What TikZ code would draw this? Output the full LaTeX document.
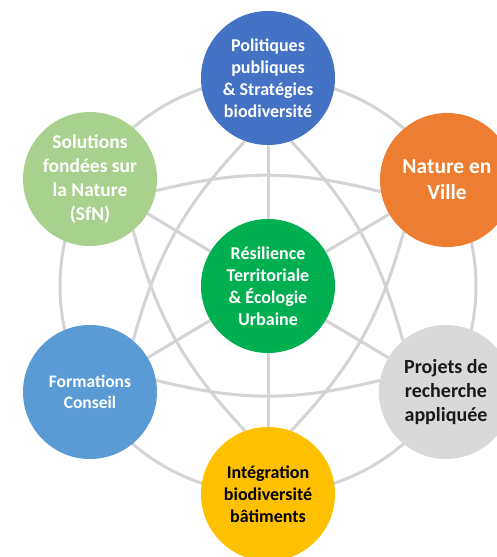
\documentclass[tikz,border=0pt]{standalone}
\usepackage{fontspec}
\setmainfont{Carlito}
\usetikzlibrary{backgrounds}
\definecolor{cPol}{HTML}{4472C4}
\definecolor{cNat}{HTML}{ED7D31}
\definecolor{cSfn}{HTML}{A9D18E}
\definecolor{cCen}{HTML}{00B050}
\definecolor{cFor}{HTML}{5B9BD5}
\definecolor{cPro}{HTML}{D9D9D9}
\definecolor{cInt}{HTML}{FFC000}
\definecolor{cLine}{HTML}{D4D4D4}
\begin{document}
\begin{tikzpicture}[x=1pt,y=1pt,
  bub/.style={circle,minimum size=134pt,inner sep=0pt,align=center,text=white,
    font=\bfseries\fontsize{18}{22}\selectfont},
  link/.style={draw=cLine,line width=3pt}]
\useasboundingbox (0,0) rectangle (497,557);
\clip (0,0) rectangle (497,557);
\node[bub,fill=cCen] (cen) at (268,271) {Résilience\\Territoriale\\\& Écologie\\Urbaine};
\node[bub,fill=cPol] (pol) at (268,479) {Politiques\\publiques\\\& Stratégies\\biodiversité};
\node[bub,fill=cNat,font=\bfseries\fontsize{21.5}{26}\selectfont] (nat) at (447,377) {Nature en\\Ville};
\node[bub,fill=cSfn,font=\bfseries\fontsize{19.5}{24}\selectfont] (sfn) at (90,378) {Solutions\\fondées sur\\la Nature\\(SfN)};
\node[bub,fill=cFor,font=\bfseries\fontsize{17.5}{21}\selectfont] (for) at (90,165) {Formations\\Conseil};
\node[bub,fill=cPro,text=black!90,font=\bfseries\fontsize{20}{24}\selectfont] (pro) at (446,165) {Projets de\\recherche\\appliquée};
\node[bub,fill=cInt,text=black] (int) at (268,63) {Intégration\\biodiversité\\bâtiments};
\begin{scope}[on background layer]
  \fill[white] (0,0) rectangle (497,557);
  \draw[link] (cen.center) circle[radius=208];
  \foreach \n in {pol,nat,sfn,for,pro,int} \draw[link] (cen) -- (\n);
  \draw[link] (sfn.-10) to[bend left=14] (nat.190);
  \draw[link] (nat.-130) to[bend left=14] (int.70);
  \draw[link] (int.110) to[bend left=14] (sfn.-50);
  \draw[link] (pol.-70) to[bend left=14] (pro.130);
  \draw[link] (pro.170) to[bend left=14] (for.10);
  \draw[link] (for.50) to[bend left=14] (pol.250);
\end{scope}
\end{tikzpicture}
\end{document}
